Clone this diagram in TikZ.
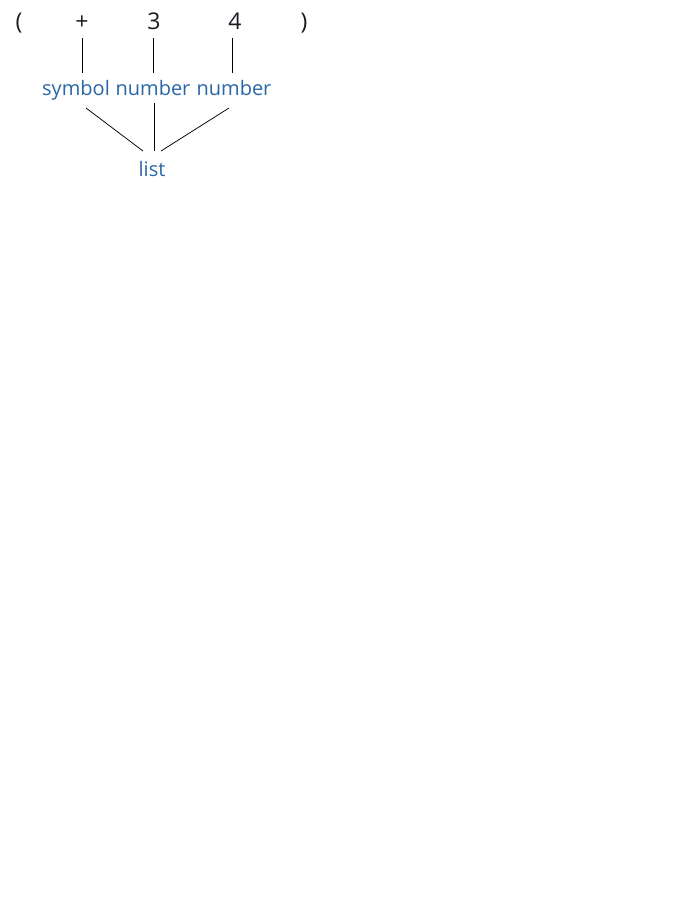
\documentclass[tikz,border=0pt]{standalone}
\usepackage{fontspec}
\setmainfont{Open Sans}
\definecolor{lblblue}{HTML}{2B66A6}
\definecolor{tokdark}{HTML}{1A1A24}
\begin{document}
\begin{tikzpicture}[x=1pt,y=-1pt,
  tok/.style={inner sep=0pt,anchor=base,text=tokdark,font=\fontsize{23}{27}\selectfont},
  lbl/.style={inner sep=0pt,anchor=base,text=lblblue,font=\fontsize{20}{24}\selectfont},
  edge/.style={draw=black,line width=0.75pt}]
\useasboundingbox (0,0) rectangle (700,906);
\node[tok] (lp) at (19,29) {(};
\node[tok] (plus) at (82,29) {+};
\node[tok] (three) at (154,29) {3};
\node[tok] (four) at (235,29) {4};
\node[tok] (rp) at (304,29) {)};
\node[lbl] (sym) at (76,95) {symbol};
\node[lbl] (num1) at (153,95) {number};
\node[lbl] (num2) at (234,95) {number};
\node[lbl] (list) at (152,176) {list};
\draw[edge] ([shift={(0,9)}]plus.base) -- ([shift={(6,-22)}]sym.base);
\draw[edge] ([shift={(-1,9)}]three.base) -- ([shift={(0,-22)}]num1.base);
\draw[edge] ([shift={(-3,9)}]four.base) -- ([shift={(-2,-22)}]num2.base);
\draw[edge] ([shift={(10,13)}]sym.base) -- ([shift={(-9,-25)}]list.base);
\draw[edge] ([shift={(1,8)}]num1.base) -- ([shift={(2,-25)}]list.base);
\draw[edge] ([shift={(-5,13)}]num2.base) -- ([shift={(9,-25)}]list.base);
\end{tikzpicture}
\end{document}
